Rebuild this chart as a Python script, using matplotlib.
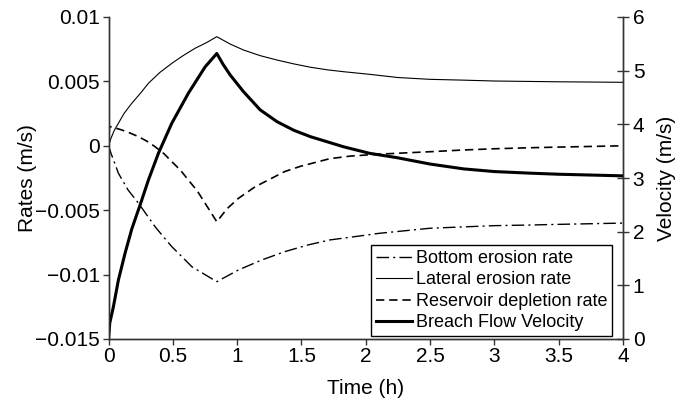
import matplotlib
matplotlib.use("Agg")
import matplotlib.pyplot as plt

plt.rcParams['font.family'] = ['Liberation Sans', 'DejaVu Sans']
plt.rcParams['lines.scale_dashes'] = False

# ---- data ----
t_lat = [0, 0.02, 0.045, 0.077, 0.12, 0.181, 0.25, 0.31, 0.4, 0.492, 0.58, 0.673, 0.76, 0.842,
         0.946, 1.049, 1.179, 1.31, 1.44, 1.57, 1.7, 1.83, 2.03, 2.25, 2.5, 2.75, 3.0, 3.25, 3.5, 3.75, 4.0]
lateral = [0, 0.0006, 0.0012, 0.00175, 0.0025, 0.0033, 0.0041, 0.00485, 0.0057, 0.0064, 0.0070,
           0.00757, 0.0080, 0.00847, 0.0079, 0.00744, 0.0070, 0.00666, 0.00636, 0.0061, 0.0059,
           0.00575, 0.00555, 0.0053, 0.00516, 0.0051, 0.00503, 0.0050, 0.00497, 0.00495, 0.00493]

t_bot = [0, 0.02, 0.077, 0.15, 0.233, 0.3, 0.362, 0.43, 0.492, 0.57, 0.648, 0.75, 0.842,
         1.01, 1.19, 1.37, 1.55, 1.72, 1.88, 2.1, 2.5, 2.75, 3.0, 3.28, 3.5, 3.75, 4.0]
bottom = [0, -0.0006, -0.00213, -0.0034, -0.00446, -0.0054, -0.00628, -0.0071, -0.00783, -0.0086,
          -0.00939, -0.0100, -0.01055, -0.00964, -0.00887, -0.00822, -0.0077, -0.00731, -0.0071,
          -0.0068, -0.0064, -0.0063, -0.0062, -0.00615, -0.0061, -0.00605, -0.0060]

t_res = [0, 0.008, 0.04, 0.103, 0.17, 0.233, 0.3, 0.362, 0.43, 0.492, 0.56, 0.621, 0.69, 0.751,
         0.842, 0.92, 1.01, 1.14, 1.37, 1.49, 1.72, 1.88, 2.1, 2.5, 2.75, 3.0, 3.28, 3.5, 3.75, 4.0]
reservoir = [0, 0.0015, 0.00142, 0.00123, 0.00098, 0.00071, 0.00035, -0.00007, -0.0006, -0.00123,
             -0.0019, -0.00266, -0.0035, -0.00446, -0.0059, -0.0049, -0.00408, -0.00318, -0.0020,
             -0.0016, -0.0010, -0.0008, -0.00065, -0.00046, -0.00033, -0.00023, -0.00015, -0.0001,
             -0.00005, 0.0]

t_vel = [0, 0.01, 0.038, 0.077, 0.129, 0.181, 0.246, 0.31, 0.388, 0.492, 0.621, 0.751, 0.842,
         0.89, 0.946, 1.049, 1.179, 1.31, 1.44, 1.57, 1.83, 2.03, 2.24, 2.5, 2.76, 3.0, 3.28, 3.5, 3.75, 4.0]
velocity = [0, 0.3, 0.6, 1.1, 1.6, 2.05, 2.5, 2.96, 3.46, 4.02, 4.58, 5.07, 5.32,
            5.12, 4.92, 4.61, 4.27, 4.05, 3.89, 3.77, 3.58, 3.46, 3.38, 3.26, 3.17, 3.12, 3.09, 3.07, 3.055, 3.04]

x_ticks = [0, 0.5, 1, 1.5, 2, 2.5, 3, 3.5, 4]
x_labels = ['0', '0.5', '1', '1.5', '2', '2.5', '3', '3.5', '4']
left_ticks = [0.01, 0.005, 0, -0.005, -0.01, -0.015]
left_labels = ['0.01', '0.005', '0', '\u22120.005', '\u22120.01', '\u22120.015']
right_ticks = [0, 1, 2, 3, 4, 5, 6]
right_labels = ['0', '1', '2', '3', '4', '5', '6']
legend_labels = ['Bottom erosion rate', 'Lateral erosion rate',
                 'Reservoir depletion rate', 'Breach Flow Velocity']

FS = 15
spine_col = '#333333'

fig = plt.figure(figsize=(6.87, 4.04), dpi=100)
ax = fig.add_axes([108.5 / 687, 1 - 339 / 404, (623 - 108.5) / 687, (339 - 17) / 404])
ax2 = ax.twinx()

l1, = ax.plot(t_bot, bottom, color='black', lw=1.0, dashes=(9, 3, 1.5, 3))
l2, = ax.plot(t_lat, lateral, color='black', lw=0.8)
l3, = ax.plot(t_res, reservoir, color='black', lw=1.2, dashes=(6, 3.5))
l4, = ax2.plot(t_vel, velocity, color='black', lw=2.2)

ax.set_xlim(0, 4)
ax.set_ylim(-0.015, 0.01)
ax2.set_ylim(0, 6)

ax.set_xticks(x_ticks)
ax.set_xticklabels(x_labels, fontsize=FS)
ax.set_yticks(left_ticks)
ax.set_yticklabels(left_labels, fontsize=FS)
ax2.set_yticks(right_ticks)
ax2.set_yticklabels(right_labels, fontsize=FS)

for a in (ax, ax2):
    a.spines['top'].set_visible(False)
    for s in a.spines.values():
        s.set_color(spine_col)
        s.set_linewidth(1.0)
ax.tick_params(axis='both', direction='out', length=4, width=1.0, color=spine_col, pad=2)
ax2.tick_params(axis='y', direction='inout', length=8, width=1.0, color=spine_col, pad=3)

ax.set_xlabel('Time (h)', fontsize=FS, labelpad=9)
ax.set_ylabel('Rates (m/s)', fontsize=FS, labelpad=-1)
ax2.set_ylabel('Velocity (m/s)', fontsize=FS, labelpad=9)

leg = ax2.legend([l1, l2, l3, l4], legend_labels,
                 loc='lower right', bbox_to_anchor=(611.7 / 687, 1 - 336 / 404), bbox_transform=fig.transFigure,
                 fontsize=13, frameon=True, fancybox=False, edgecolor='black', framealpha=1,
                 handlelength=2.0, handletextpad=0.2, labelspacing=0.25, borderpad=0.25, borderaxespad=0)
leg.get_frame().set_linewidth(1.0)

fig.savefig('out.png', dpi=100)
